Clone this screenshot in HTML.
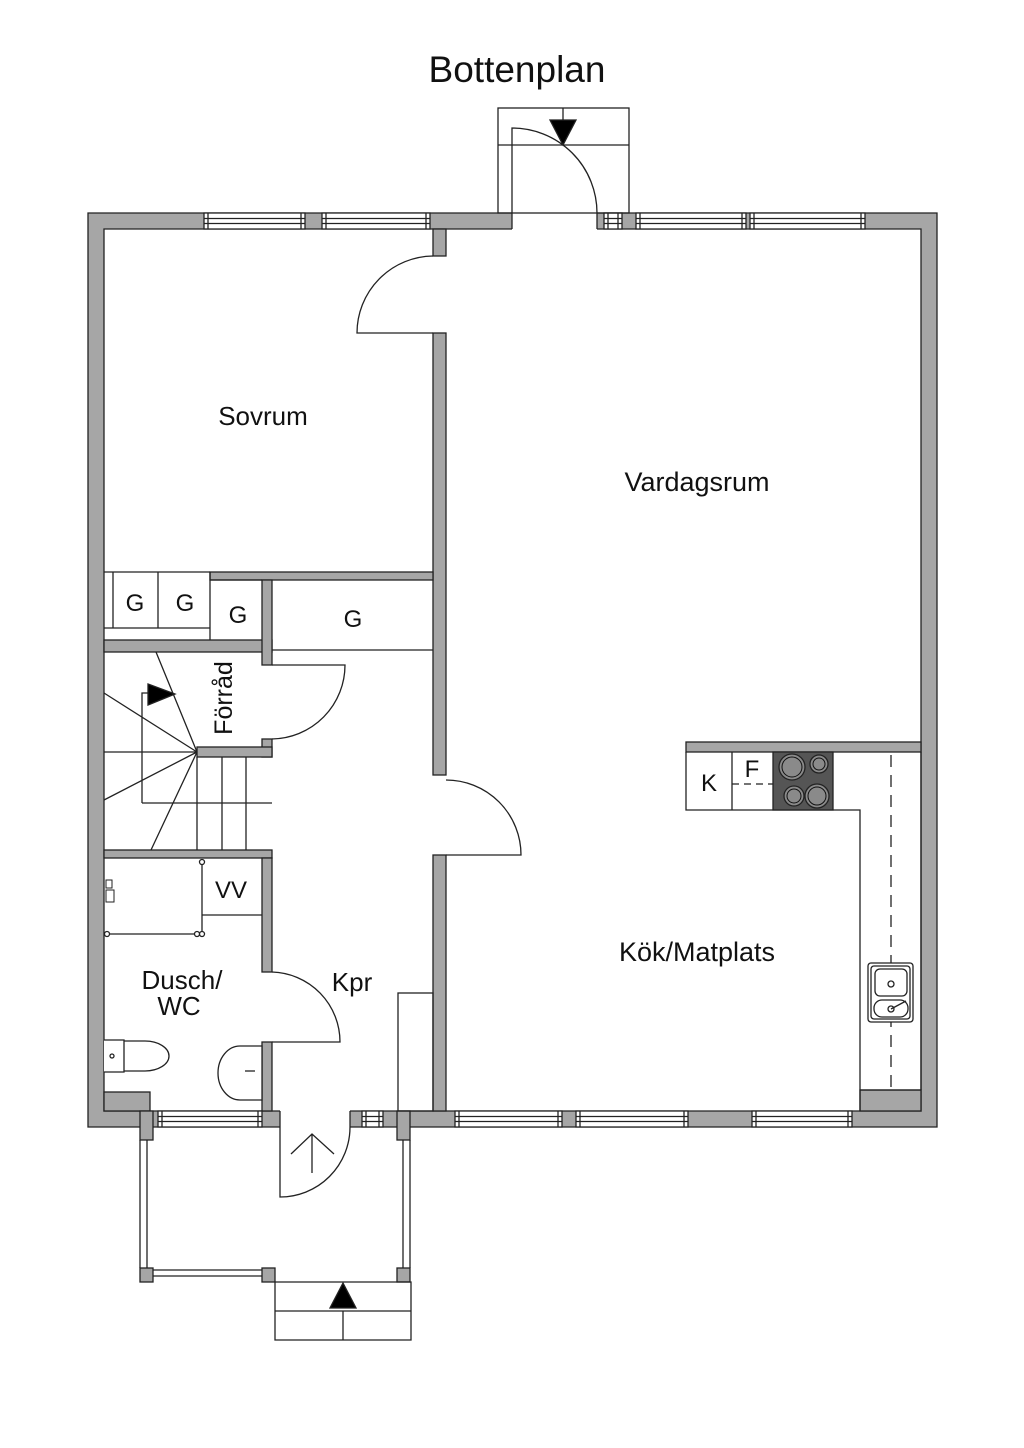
<!DOCTYPE html>
<html><head><meta charset="utf-8"><style>
html,body{margin:0;padding:0;background:#fff}
svg{display:block}
text{font-family:"Liberation Sans",sans-serif;fill:#111}
</style></head><body>
<svg width="1024" height="1448" viewBox="0 0 1024 1448" xmlns="http://www.w3.org/2000/svg">
<g stroke="#222" stroke-width="1.3" fill="none">
<path fill="#a6a6a6" fill-rule="evenodd" d="M88,213 H937 V1127 H88 Z M104,229 V1111 H921 V229 Z"/>
<g fill="#a6a6a6">
<rect x="433" y="229" width="13" height="27"/>
<rect x="433" y="333" width="13" height="442"/>
<rect x="433" y="855" width="13" height="256"/>
<rect x="210" y="572" width="223" height="8"/>
<rect x="104" y="640" width="168" height="12"/>
<rect x="262" y="580" width="10" height="85"/>
<rect x="262" y="739" width="10" height="18"/>
<rect x="197" y="747" width="75" height="10"/>
<rect x="104" y="850" width="168" height="8"/>
<rect x="262" y="858" width="10" height="114"/>
<rect x="262" y="1042" width="10" height="69"/>
<rect x="686" y="742" width="235" height="10"/>
<rect x="104" y="1092" width="46" height="19"/>
<rect x="140" y="1111" width="13" height="29"/>
<rect x="397" y="1111" width="13" height="29"/>
<rect x="860" y="1090" width="61" height="21"/>
<rect x="140" y="1268" width="13" height="14"/>
<rect x="262" y="1268" width="13" height="14"/>
<rect x="397" y="1268" width="13" height="14"/>
</g>
<g fill="#fff" stroke="none">
<rect x="512" y="212" width="85" height="18"/>
<rect x="280" y="1110" width="70" height="18"/>
</g>
<line x1="512" y1="229" x2="512" y2="213"/><line x1="597" y1="229" x2="597" y2="213"/>
<line x1="280" y1="1111" x2="280" y2="1127"/><line x1="350" y1="1111" x2="350" y2="1127"/>
<g fill="#fff">
<rect x="204" y="213" width="101" height="16"/><rect x="322" y="213" width="108" height="16"/>
<rect x="636" y="213" width="110" height="16"/><rect x="750" y="213" width="115" height="16"/>
<rect x="604" y="213" width="18" height="16"/>
<rect x="158" y="1111" width="104" height="16"/>
<rect x="455" y="1111" width="107" height="16"/><rect x="576" y="1111" width="112" height="16"/>
<rect x="752" y="1111" width="100" height="16"/>
<rect x="362" y="1111" width="21" height="16"/>
</g>
<path d="M204,218.5H305M204,223.5H305M208,213V229M301,213V229
M322,218.5H430M322,223.5H430M326,213V229M426,213V229
M636,218.5H746M636,223.5H746M640,213V229M742,213V229
M750,218.5H865M750,223.5H865M754,213V229M861,213V229
M604,218.5H622M604,223.5H622M608,213V229M618,213V229
M158,1116.5H262M158,1121.5H262M162,1111V1127M258,1111V1127
M455,1116.5H562M455,1121.5H562M459,1111V1127M558,1111V1127
M576,1116.5H688M576,1121.5H688M580,1111V1127M684,1111V1127
M752,1116.5H852M752,1121.5H852M756,1111V1127M848,1111V1127
M362,1116.5H383M362,1121.5H383M366,1111V1127M379,1111V1127"/>
<rect x="498" y="108" width="131" height="105"/>
<line x1="498" y1="145" x2="629" y2="145"/>
<line x1="563" y1="108" x2="563" y2="120"/>
<path d="M550,120H576L563,145Z" fill="#000"/>
<path d="M512,213V128A85,85 0 0 1 597,213"/>
<path d="M433,256A77,77 0 0 0 357,333H433"/>
<path d="M446,780A75,75 0 0 1 521,855H446"/>
<path d="M104,572H210M113,572V628M158,572V628M104,628H210M210,572V640M210,580H262"/>
<path d="M272,650H433"/>
<path d="M272,665H345A74,74 0 0 1 272,739"/>
<path d="M197,752L156,652M197,752L104,693M197,752H104M197,752L104,800M197,752L151,850
M197,757V850M222,757V850M246,757V850M142,803H272M142,803V693H150"/>
<path d="M148,684L175,694L148,705Z" fill="#000"/>
<path d="M104,934H202M202,860V934M202,915H262"/>
<g fill="#fff"><circle cx="202" cy="862" r="2.5"/><circle cx="202" cy="934" r="2.5"/><circle cx="197" cy="934" r="2.5"/><circle cx="107" cy="934" r="2.5"/></g>
<path d="M106,880h6v8h-6zM106,890h8v12h-8z" stroke-width="1"/>
<path d="M104,1040h20v32h-20M124,1041H145A24,15 0 0 1 145,1071H124" fill="#fff"/>
<circle cx="112" cy="1056" r="2"/>
<path d="M262,1046H240A22,27 0 0 0 240,1100H262Z" fill="#fff"/>
<path d="M245,1071h10"/>
<path d="M272,972A70,70 0 0 1 340,1042H272"/>
<rect x="398" y="993" width="35" height="118"/>
<path d="M280,1127V1197A70,70 0 0 0 350,1127"/>
<path d="M312,1173V1134M291,1154L312,1134L334,1154"/>
<path d="M140,1140V1268M147,1140V1268M403,1140V1268M410,1140V1268M153,1270H262M153,1276H262"/>
<path d="M275,1282H411V1340H275ZM275,1311H411M343,1311V1340"/>
<path d="M330,1308H356L343,1283Z" fill="#000"/>
<path d="M686,752V810H860V1111M732,752V810M860,1090H921M921,752V1090"/>
<path d="M732,784H773" stroke-dasharray="7,5"/>
<path d="M891,755V1090" stroke-dasharray="12,8"/>
<rect x="773" y="752" width="60" height="58" fill="#555"/>
<g fill="#8a8a8a" stroke="#222"><circle cx="792" cy="767" r="13"/><circle cx="819" cy="764" r="9"/><circle cx="794" cy="796" r="10"/><circle cx="817" cy="796" r="12"/></g>
<g fill="none" stroke="#111" stroke-width="1"><circle cx="792" cy="767" r="10"/><circle cx="819" cy="764" r="6"/><circle cx="794" cy="796" r="7"/><circle cx="817" cy="796" r="9"/></g>
<rect x="868" y="963" width="45" height="59" rx="3" fill="#fff"/>
<rect x="871" y="966" width="39" height="53" rx="3"/>
<rect x="875" y="969" width="32" height="27" rx="5"/>
<rect x="874" y="1000" width="34" height="17" rx="8"/>
<circle cx="891" cy="984" r="3"/><circle cx="891" cy="1009" r="3"/><path d="M891,1009L906,1001"/>
</g>
<text x="517" y="82" font-size="37" text-anchor="middle">Bottenplan</text>
<text x="263" y="425" font-size="26" text-anchor="middle">Sovrum</text>
<text x="697" y="491" font-size="27" text-anchor="middle">Vardagsrum</text>
<text x="697" y="961" font-size="27" text-anchor="middle">Kök/Matplats</text>
<text x="352" y="991" font-size="26" text-anchor="middle">Kpr</text>
<text x="182" y="989" font-size="26" text-anchor="middle">Dusch/</text>
<text x="179" y="1015" font-size="26" text-anchor="middle">WC</text>
<text x="135" y="611" font-size="24" text-anchor="middle">G</text>
<text x="185" y="611" font-size="24" text-anchor="middle">G</text>
<text x="238" y="623" font-size="24" text-anchor="middle">G</text>
<text x="353" y="627" font-size="24" text-anchor="middle">G</text>
<text x="231" y="898" font-size="24" text-anchor="middle">VV</text>
<text x="709" y="791" font-size="24" text-anchor="middle">K</text>
<text x="752" y="777" font-size="24" text-anchor="middle">F</text>
<text transform="translate(232,698) rotate(-90)" font-size="25" text-anchor="middle">Förråd</text>
</svg>
</body></html>
